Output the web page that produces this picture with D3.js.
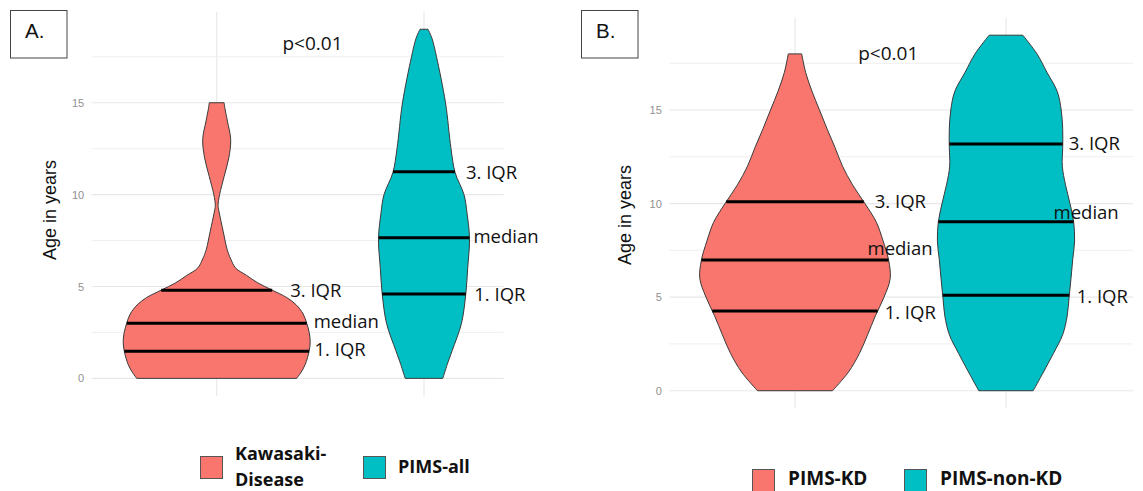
<!DOCTYPE html>
<html><head><meta charset="utf-8">
<script src="https://cdnjs.cloudflare.com/ajax/libs/d3/7.8.5/d3.min.js"></script>
<style>body{margin:0;background:#fff}svg{display:block}</style>
</head><body>
<svg id="c" width="1143" height="491"></svg>
<script>
// ---------- DATA ----------
const yTicks = [0, 5, 10, 15];
const yMinor = [2.5, 7.5, 12.5, 17.5];
const quantileNames = ["1. IQR", "median", "3. IQR"];

const catsA = ["Kawasaki-Disease", "PIMS-all"];
const legendA = [["Kawasaki-", "Disease"], ["PIMS-all"]];
// [age, relative density (half-width)]
const kawasakiProfile = [[0,0.80],[0.3,0.84],[0.75,0.885],[1.5,0.925],[2,0.935],[2.5,0.925],[3,0.90],[3.5,0.865],[4,0.795],[4.4,0.70],[4.8,0.555],[5.2,0.41],[5.6,0.30],[6,0.19],[6.5,0.14],[7,0.105],[8,0.065],[9,0.026],[9.4,0.014],[10,0.029],[11,0.075],[12,0.121],[13,0.14],[14,0.107],[14.7,0.082],[15,0.074]];
const pimsAllProfile = [[0,0.188],[0.75,0.232],[1.5,0.281],[3,0.375],[4.6,0.418],[6,0.437],[7.6,0.455],[9,0.43],[10,0.40],[11.2,0.311],[12.5,0.27],[15,0.215],[17.5,0.125],[18.5,0.08],[19,0.04]];
const kawasakiQuantiles = [1.47, 3.0, 4.8];
const pimsAllQuantiles = [4.59, 7.65, 11.25];

const catsB = ["PIMS-KD", "PIMS-non-KD"];
const legendB = [["PIMS-KD"], ["PIMS-non-KD"]];
const pimsKDProfile = [[0,0.375],[1,0.535],[2,0.645],[3,0.727],[4,0.804],[5,0.89],[6,0.952],[7,0.935],[8,0.881],[9,0.814],[10,0.70],[11,0.576],[12,0.475],[13,0.40],[14,0.32],[15,0.245],[16,0.17],[17,0.107],[18,0.067]];
const pimsNonKDProfile = [[0,0.272],[1,0.375],[2,0.475],[3,0.567],[4,0.612],[5,0.631],[6,0.65],[7,0.667],[8,0.686],[9,0.677],[10,0.64],[11,0.595],[12,0.563],[13,0.567],[14,0.567],[15,0.552],[16,0.512],[17,0.411],[18,0.31],[19,0.168]];
const pimsKDQuantiles = [4.26, 6.98, 10.1];
const pimsNonKDQuantiles = [5.1, 9.03, 13.19];

const colors = ["#F8766D", "#00BFC4"];

// ---------- LAYOUT ----------
const panels = [
  { tag: "A.", box: [10, 10, 56.5, 47.5], yRange: [395.8, 11.8], xPos: [216.7, 424], gridX: [91.7, 503.6],
    title: [50, 210], p: [312.5, 43.3], cats: catsA, legend: legendA, legFont: 18,
    profiles: [kawasakiProfile, pimsAllProfile], quants: [kawasakiQuantiles, pimsAllQuantiles],
    // label offsets from line end [dx, dy] for 1.IQR, median, 3.IQR
    lab: [[[5.5,-3],[7,-2.6],[18,-1]], [[8.5,-1],[4,-2.7],[11,0]]],
    legSq: [[200, 456], [363, 456]], legTx: [235, 398], legY: 466 },
  { tag: "B.", box: [581, 10, 56.5, 47.5], yRange: [408.5, 17.4], xPos: [795, 1006], gridX: [669.3, 1133],
    title: [625, 215], p: [888.3, 53], cats: catsB, legend: legendB, legFont: 19,
    profiles: [pimsKDProfile, pimsNonKDProfile], quants: [pimsKDQuantiles, pimsNonKDQuantiles],
    lab: [[[7,0],[-21,-12.3],[11,-1.7]], [[7.4,0],[-20,-10.7],[6,-1.3]]],
    legSq: [[752, 469], [904, 469]], legTx: [788, 940], legY: 478 }
];

const svg = d3.select("#c");
svg.append("rect").attr("width", 1143).attr("height", 491).attr("fill", "#fff");

panels.forEach(P => {
  const g = svg.append("g");
  const y = d3.scaleLinear().domain([-0.95, 19.95]).range(P.yRange);
  const x = d3.scaleOrdinal().domain(P.cats).range(P.xPos);
  const w = d3.scaleLinear().domain([0, 1]).range([0, 100]);

  // grid
  g.selectAll(".minor").data(yMinor).join("line")
    .attr("x1", P.gridX[0]).attr("x2", P.gridX[1])
    .attr("y1", d => y(d)).attr("y2", d => y(d))
    .attr("stroke", "#ededed").attr("stroke-width", 0.9);
  g.selectAll(".major").data(yTicks).join("line")
    .attr("x1", P.gridX[0]).attr("x2", P.gridX[1])
    .attr("y1", d => y(d)).attr("y2", d => y(d))
    .attr("stroke", "#e8e8e8").attr("stroke-width", 1.1);
  g.selectAll(".vg").data(P.cats).join("line")
    .attr("x1", d => x(d)).attr("x2", d => x(d))
    .attr("y1", P.yRange[0]).attr("y2", P.yRange[1])
    .attr("stroke", "#e8e8e8").attr("stroke-width", 1.1);

  // axis labels
  const ax = g.append("g").attr("transform", `translate(${P.gridX[0]},0)`)
    .call(d3.axisLeft(y).tickValues(yTicks).tickSize(0).tickPadding(7.5));
  ax.select(".domain").remove();
  ax.selectAll("text").attr("fill", "#8f8f8f").style("font-family", "Liberation Sans, Arial, sans-serif").style("font-size", "11px");

  // y title
  g.append("text").attr("transform", `translate(${P.title[0]},${P.title[1]}) rotate(-90)`)
    .attr("text-anchor", "middle").attr("dominant-baseline", "central")
    .style("font-family", "Liberation Sans, Arial, sans-serif").style("font-size", "18px")
    .attr("fill", "#111").text("Age in years");

  // tag box
  g.append("rect").attr("x", P.box[0] + 0.5).attr("y", P.box[1] + 0.5).attr("width", P.box[2]).attr("height", P.box[3])
    .attr("fill", "#fff").attr("stroke", "#444").attr("stroke-width", 1);
  g.append("text").attr("x", P.box[0] + 15).attr("y", P.box[1] + 28.3)
    .style("font-family", "Liberation Sans, Arial, sans-serif").style("font-size", "20.5px").attr("fill", "#111").text(P.tag);

  // p value
  g.append("text").attr("x", P.p[0]).attr("y", P.p[1]).attr("text-anchor", "middle").attr("dominant-baseline", "central")
    .style("font-family", "Open Sans, sans-serif").style("font-size", "19px").attr("fill", "#111").text("p<0.01");

  // violins
  P.cats.forEach((cat, i) => {
    const cx = x(cat);
    const prof = P.profiles[i];
    const area = d3.area()
      .y(d => y(d[0]))
      .x0(d => cx - w(d[1]))
      .x1(d => cx + w(d[1]))
      .curve(d3.curveCatmullRom.alpha(0.5));
    g.append("path").datum(prof).attr("d", area)
      .attr("fill", colors[i]).attr("stroke", "#3a3a3a").attr("stroke-width", 1);

    const dens = d3.scaleLinear().domain(prof.map(d => d[0])).range(prof.map(d => d[1]));
    P.quants[i].forEach((q, k) => {
      const hw = w(dens(q));
      g.append("line").attr("x1", cx - hw).attr("x2", cx + hw)
        .attr("y1", y(q)).attr("y2", y(q)).attr("stroke", "#000").attr("stroke-width", 3);
      const off = P.lab[i][k];
      g.append("text").attr("x", cx + hw + off[0]).attr("y", y(q) + off[1])
        .attr("dominant-baseline", "central")
        .style("font-family", "Open Sans, sans-serif").style("font-size", "18.5px").attr("fill", "#111")
        .text(quantileNames[k]);
    });
  });

  // legend
  P.cats.forEach((cat, i) => {
    g.append("rect").attr("x", P.legSq[i][0] + 0.5).attr("y", P.legSq[i][1] + 0.5).attr("width", 22).attr("height", 22)
      .attr("fill", colors[i]).attr("stroke", "#555").attr("stroke-width", 1);
    const lines = P.legend[i];
    const t = g.append("text").attr("x", P.legTx[i])
      .style("font-family", "Open Sans, sans-serif").style("font-weight", "bold").style("font-size", P.legFont + "px").attr("fill", "#111");
    lines.forEach((s, j) => {
      t.append("tspan").attr("x", P.legTx[i])
        .attr("y", P.legY + (j - (lines.length - 1) / 2) * 26)
        .attr("dominant-baseline", "central").text(s);
    });
  });
});
</script>
</body></html>
